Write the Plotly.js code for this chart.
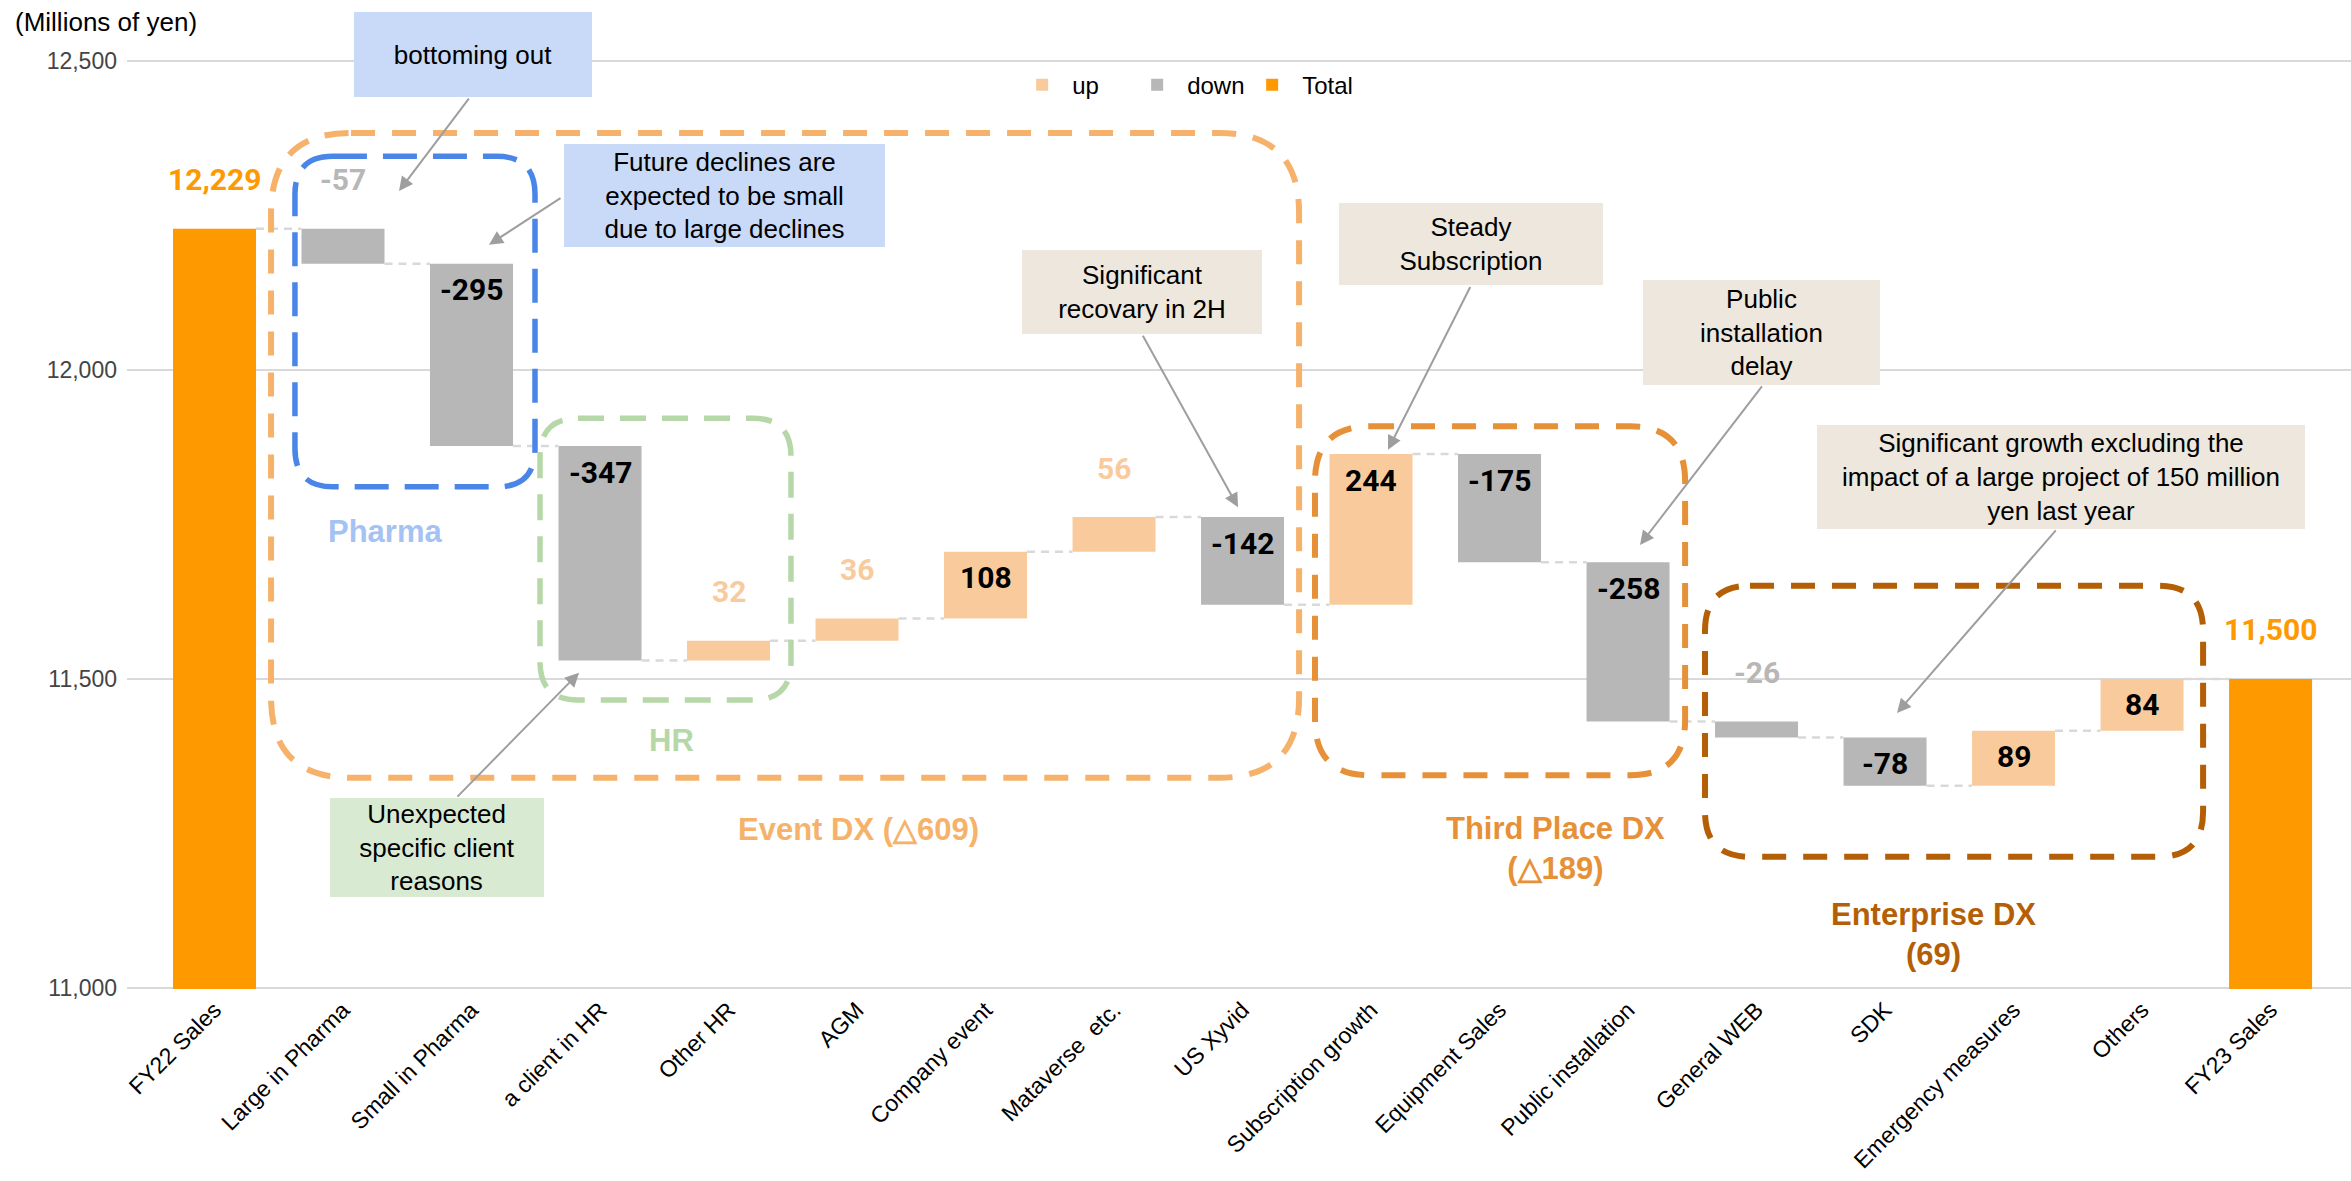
<!DOCTYPE html>
<html>
<head>
<meta charset="utf-8">
<script src="https://cdn.plot.ly/plotly-3.0.1.min.js"></script>
<style>
  html, body { margin: 0; padding: 0; background: #ffffff; }
  #chart { width: 2351px; height: 1181px; }
</style>
</head>
<body>
<div id="chart"></div>
<script>
// ---- Sales bridge FY22 -> FY23 (millions of yen) ----
const categories = [
  'FY22 Sales', 'Large in Pharma', 'Small in Pharma', 'a client in HR', 'Other HR',
  'AGM', 'Company event', 'Mataverse  etc.', 'US Xyvid', 'Subscription growth',
  'Equipment Sales', 'Public installation', 'General WEB', 'SDK',
  'Emergency measures', 'Others', 'FY23 Sales'
];
const openingTotal = 12229;
const closingTotal = 11500;
const changes = [-57, -295, -347, 32, 36, 108, 56, -142, 244, -175, -258, -26, -78, 89, 84];
const yTickValues = [11000, 11500, 12000, 12500];

// Business segments: first and last category index of each
const segmentNames = ['Event DX', 'Third Place DX', 'Enterprise DX'];
const segmentFirst = [1, 9, 12];
const segmentLast = [8, 11, 15];

// ---- styling ----
const UP = '#f9cb9c', DOWN = '#b7b7b7', TOTAL = '#ff9900';
const BAR_W = 0.646;
const SANS = 'Liberation Sans, Arial, sans-serif';
const NUMF = 'Roboto, Liberation Sans, Arial, sans-serif';

// running level after each step (levels[0] = opening total)
const levels = [openingTotal];
changes.forEach(c => levels.push(levels[levels.length - 1] + c));

const upX = [], upY = [], upBase = [];
const downX = [], downY = [], downBase = [];
changes.forEach((c, i) => {
  if (c > 0) { upX.push(i + 1); upY.push(c); upBase.push(levels[i]); }
  else { downX.push(i + 1); downY.push(c); downBase.push(levels[i]); }
});
const lastIdx = categories.length - 1;

// dashed connectors between neighbouring bars
const connX = [], connY = [];
for (let k = 0; k < levels.length; k++) {
  connX.push(k + BAR_W / 2, k + 1 - BAR_W / 2, null);
  connY.push(levels[k], levels[k], null);
}

const traces = [
  { type: 'bar', name: 'up', x: upX, y: upY, base: upBase, width: BAR_W,
    marker: { color: UP }, hoverinfo: 'skip' },
  { type: 'bar', name: 'down', x: downX, y: downY, base: downBase, width: BAR_W,
    marker: { color: DOWN }, hoverinfo: 'skip' },
  { type: 'bar', name: 'Total', x: [0, lastIdx], y: [openingTotal, closingTotal], width: BAR_W,
    marker: { color: TOTAL }, hoverinfo: 'skip' },
  { type: 'scatter', mode: 'lines', x: connX, y: connY, showlegend: false, hoverinfo: 'skip',
    line: { color: '#d9d9d9', width: 2.5, dash: '8px,6px' } }
];

// ---- value labels ----
const annotations = [];
function valueLabel(x, top, text, inside, color) {
  annotations.push({
    x: x, y: top, xref: 'x', yref: 'y', text: text, showarrow: false,
    xanchor: 'center', yanchor: 'middle', yshift: inside ? -26 : 49,
    font: { family: NUMF, size: 30, weight: 'bold', color: color }
  });
}
valueLabel(0, openingTotal, openingTotal.toLocaleString('en-US'), false, TOTAL);
valueLabel(lastIdx, closingTotal, closingTotal.toLocaleString('en-US'), false, TOTAL);
changes.forEach((c, i) => {
  const top = Math.max(levels[i], levels[i + 1]);
  const inside = Math.abs(c) >= 60;
  valueLabel(i + 1, top, String(c), inside, inside ? '#000000' : (c > 0 ? UP : DOWN));
});

// ---- segment labels ----
function segTotal(s) {
  let t = 0;
  for (let i = segmentFirst[s]; i <= segmentLast[s]; i++) t += changes[i - 1];
  return t < 0 ? '\u25B3' + Math.abs(t) : String(t);
}
function textLabel(x, y, text, color) {
  annotations.push({ x: x, y: y, xref: 'x', yref: 'y', text: text, showarrow: false,
    xanchor: 'center', yanchor: 'middle',
    font: { family: SANS, size: 31, weight: 'bold', color: color } });
}
textLabel(5.008, 11257, segmentNames[0] + ' (' + segTotal(0) + ')', '#f6b26b');
textLabel(10.432, 11226, segmentNames[1] + '<br>(' + segTotal(1) + ')', '#e69138');
textLabel(13.374, 11087, segmentNames[2] + '<br>(' + segTotal(2) + ')', '#b45f06');
textLabel(1.327, 11738, 'Pharma', '#a4c2f4');
textLabel(3.560, 11400, 'HR', '#b6d7a8');

// ---- callouts: box + arrow ----
const BLUE_BG = '#c9daf8', BEIGE_BG = '#ede7dd', GREEN_BG = '#d9ead3';
function arrow(tailX, tailY, tipX, tipY) {
  annotations.push({
    x: tipX, y: tipY, xref: 'x', yref: 'y', ax: tailX, ay: tailY, axref: 'x', ayref: 'y',
    text: '', showarrow: true, arrowhead: 2, arrowsize: 1.4, arrowwidth: 2,
    arrowcolor: '#9e9e9e', standoff: 0, startstandoff: 0
  });
}
function box(text, cx, cy, w, h, bg, ref) {
  annotations.push({
    x: cx, y: cy, xref: ref ? 'paper' : 'x', yref: ref ? 'paper' : 'y', text: text, showarrow: false,
    xanchor: 'center', yanchor: 'middle', width: w, height: h,
    bgcolor: bg, borderpad: 0, borderwidth: 0, align: 'center',
    font: { family: SANS, size: 26, color: '#000000' }
  });
}
function callout(text, cx, cy, w, h, bg, tailX, tailY, tipX, tipY) {
  arrow(tailX, tailY, tipX, tipY);
  box(text, cx, cy, w, h, bg, false);
}
// this one sits above the plotting area, so it is placed in paper units
arrow(1.988, 12442, 1.436, 12290);
box('bottoming out', 0.1556, 1.006, 238, 85, BLUE_BG, true);
callout('Future declines are<br>expected to be small<br>due to large declines', 3.969, 12282, 321, 103, BLUE_BG,
  2.704, 12280, 2.136, 12203);
callout('Significant<br>recovary in 2H', 7.218, 12126, 240, 84, BEIGE_BG, 7.218, 12058, 7.965, 11778);
callout('Steady<br>Subscription', 9.778, 12204, 264, 82, BEIGE_BG, 9.778, 12137, 9.132, 11871);
callout('Public<br>installation<br>delay', 12.039, 12061, 237, 105, BEIGE_BG, 12.051, 11976, 11.093, 11717);
callout('Significant growth excluding the<br>impact of a large project of 150 million<br>yen last year',
  14.370, 11827, 488, 104, BEIGE_BG, 14.339, 11743, 13.093, 11445);
callout('Unexpected<br>specific client<br>reasons', 1.732, 11227, 214, 99, GREEN_BG, 1.879, 11307, 2.837, 11510);

// axis caption
annotations.push({ xref: 'paper', yref: 'paper', x: -0.0513, y: 1.041, xanchor: 'left', yanchor: 'middle',
  text: '(Millions of yen)', showarrow: false, font: { family: SANS, size: 26, color: '#000000' } });

// ---- dashed rounded segment frames ----
const PX_X = 128.5, PX_Y = 929 / 1504;   // pixels per category / per million yen
function roundFrame(x0, x1, y0, y1, r, color, width, dash) {
  const rx = r / PX_X, ry = r / PX_Y;
  const p = `M${x0 + rx},${y1} L${x1 - rx},${y1} Q${x1},${y1} ${x1},${y1 - ry} ` +
            `L${x1},${y0 + ry} Q${x1},${y0} ${x1 - rx},${y0} L${x0 + rx},${y0} ` +
            `Q${x0},${y0} ${x0},${y0 + ry} L${x0},${y1 - ry} Q${x0},${y1} ${x0 + rx},${y1} Z`;
  return { type: 'path', xref: 'x', yref: 'y', path: p, layer: 'above',
    line: { color: color, width: width, dash: dash }, fillcolor: 'rgba(0,0,0,0)' };
}
const shapes = [
  roundFrame(0.440, 8.440, 11340, 12384, 80, '#f6b26b', 6, '24px,17px'),
  roundFrame(0.626, 2.494, 11811, 12346, 38, '#4a86e8', 5.5, '34px,16px'),
  roundFrame(2.533, 4.486, 11466, 11922, 38, '#b6d7a8', 5.5, '26px,16px'),
  roundFrame(8.564, 11.444, 11344, 11909, 55, '#e69138', 6, '24px,17px'),
  roundFrame(11.599, 15.475, 11212, 11651, 45, '#b45f06', 6, '24px,17px')
];

const layout = {
  width: 2351, height: 1181,
  margin: { l: 127, r: 0, t: 60, b: 192 },
  paper_bgcolor: '#ffffff', plot_bgcolor: '#ffffff',
  barmode: 'overlay', hovermode: false,
  font: { family: SANS, color: '#000000' },
  xaxis: {
    type: 'linear', range: [-0.681, 16.626], tickmode: 'array',
    tickvals: categories.map((_, i) => i), ticktext: categories,
    tickangle: -45, tickfont: { family: SANS, size: 23, color: '#000000' },
    showgrid: false, zeroline: false, showline: false, ticks: '', ticklabelstandoff: 2
  },
  yaxis: {
    range: [10998, 12502], tickmode: 'array', tickvals: yTickValues, tickformat: ',d',
    tickfont: { family: SANS, size: 23, color: '#444444' },
    showgrid: true, gridcolor: '#d9d9d9', gridwidth: 2, zeroline: false, showline: false,
    ticks: '', ticklabelstandoff: 9
  },
  showlegend: true,
  legend: {
    orientation: 'h', x: 0.398, xanchor: 'left', y: 0.973, yanchor: 'middle',
    font: { family: SANS, size: 24, color: '#000000' }, bgcolor: 'rgba(255,255,255,0)',
    traceorder: 'normal', itemwidth: 50, entrywidth: 50, entrywidthmode: 'pixels'
  },
  annotations: annotations,
  shapes: shapes
};

Plotly.newPlot('chart', traces, layout, { displayModeBar: false, staticPlot: true });
</script>
</body>
</html>
